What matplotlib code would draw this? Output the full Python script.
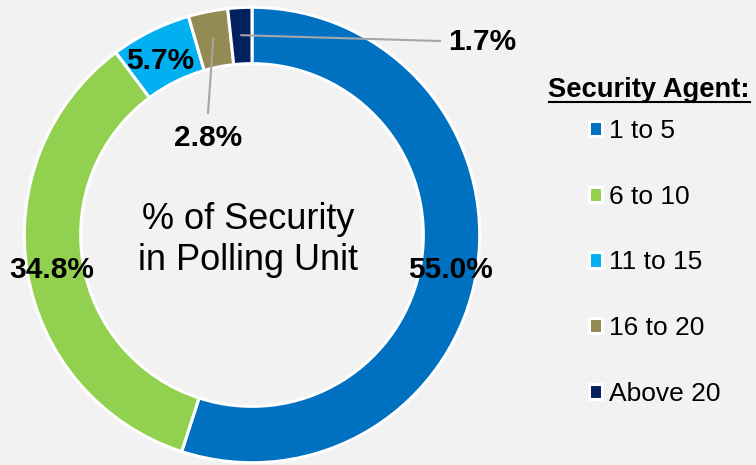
import matplotlib
matplotlib.use("Agg")
import matplotlib.pyplot as plt
import numpy as np
from matplotlib.lines import Line2D

plt.rcParams['font.family'] = ['Liberation Sans', 'DejaVu Sans']

categories = ["1 to 5", "6 to 10", "11 to 15", "16 to 20", "Above 20"]
values = [55.0, 34.8, 5.7, 2.8, 1.7]
colors = ["#0070C0", "#92D050", "#00B0F0", "#948A54", "#002060"]
legend_title = "Security Agent:"
center_text = "% of Security\nin Polling Unit"

W, H = 756, 465
fig = plt.figure(figsize=(W / 100, H / 100), dpi=100)
fig.patch.set_facecolor("#F2F2F2")

cx, cy, R = 252, 235, 230
ax = fig.add_axes([(cx - R) / W, (H - cy - R) / H, 2 * R / W, 2 * R / H])
ax.axis('off')

wedges, _ = ax.pie(values, colors=colors, startangle=90, counterclock=False,
                   radius=0.99, wedgeprops=dict(width=0.245, edgecolor='white', linewidth=2.2))
ax.set_xlim(-1, 1)
ax.set_ylim(-1, 1)
ax.set_aspect('equal')

lab_kw = dict(fontsize=21.5, fontweight='bold', ha='center', va='center', color='black', clip_on=False)

def px(xp, yp):
    return (xp - cx) / R, (cy - yp) / R

cum = np.cumsum([0] + values)
def anchor(i, r=0.87):
    th = np.deg2rad((cum[i] + values[i] / 2) / 100 * 360)
    return r * np.sin(th), r * np.cos(th)

ax.text(*px(450, 270), f"{values[0]:.1f}%", **lab_kw)
ax.text(*px(52, 270), f"{values[1]:.1f}%", **lab_kw)
ax.text(*px(160, 61), f"{values[2]:.1f}%", **lab_kw)
a = anchor(3)
lx, ly = px(208, 113)
ax.plot([a[0], lx], [a[1], ly], color="#A6A6A6", lw=1.5, clip_on=False)
ax.text(*px(208, 138), f"{values[3]:.1f}%", **lab_kw)
a = anchor(4)
lx, ly = px(440, 41)
ax.plot([a[0], lx], [a[1], ly], color="#A6A6A6", lw=1.5, clip_on=False)
ax.text(*px(482, 42), f"{values[4]:.1f}%", **lab_kw)

ax.text(*px(248, 240), center_text, fontsize=26, ha='center', va='center',
        color='black', linespacing=1.2)

leg = fig.legend(wedges, categories, loc='upper left', bbox_to_anchor=(589 / W, 1 - 119 / H),
                 frameon=False, fontsize=19, handlelength=0.5, handleheight=0.5,
                 handletextpad=0.25, labelspacing=1.58, borderaxespad=0, borderpad=0)
fig.text(750 / W, 1 - 90 / H, legend_title, fontsize=19.7, fontweight='bold', ha='right', va='center')
fig.add_artist(Line2D([549 / W, 750 / W], [1 - 102 / H, 1 - 102 / H], color='black', lw=1.5))

fig.savefig("out.png", dpi=100, facecolor=fig.get_facecolor())
